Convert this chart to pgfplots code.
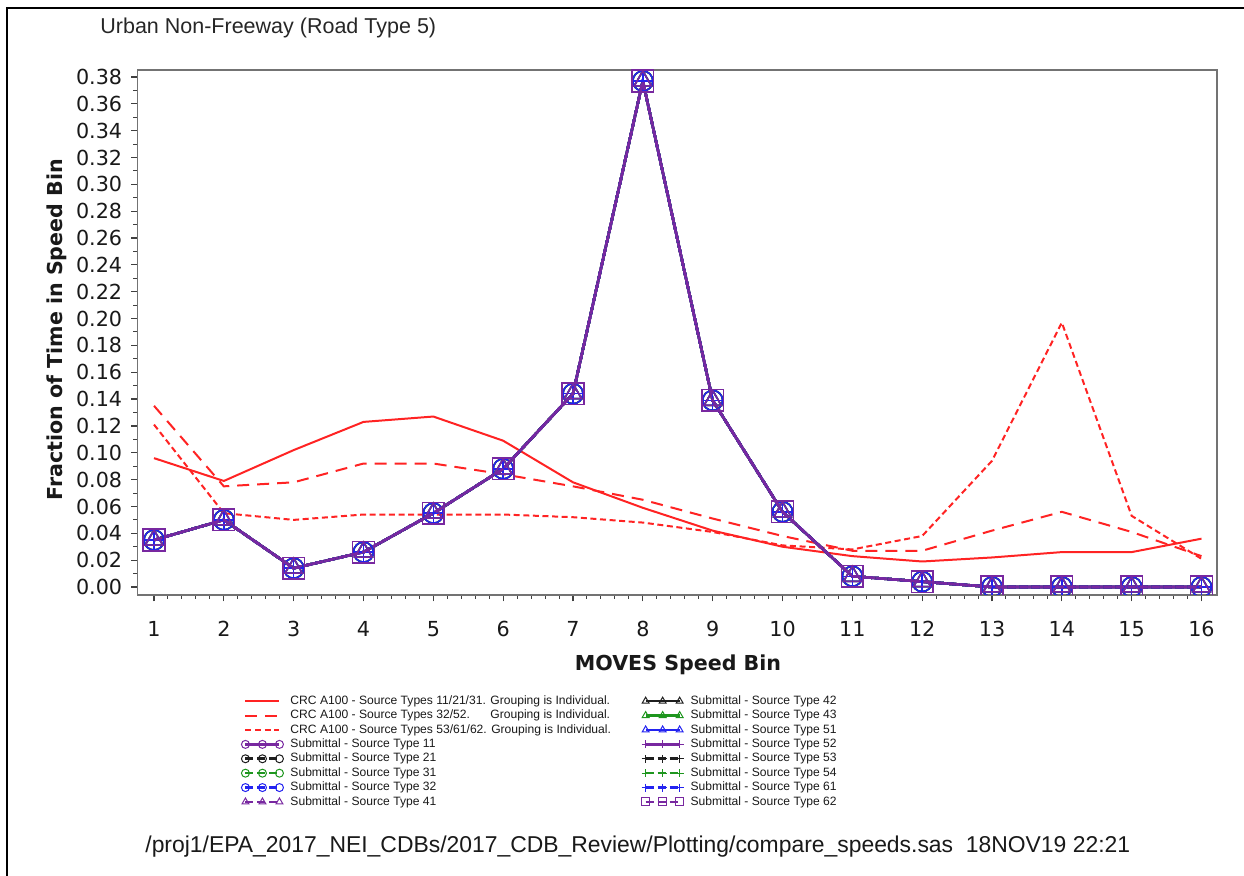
\documentclass[border=0pt]{standalone}
\usepackage{fontspec}
\setmainfont{Liberation Sans}
\newfontfamily\dejavu{DejaVu Sans}
\usepackage{calc}
\usepackage{pgfplots}
\usepackage{pgfplotstable}
\pgfplotsset{compat=1.18}

\definecolor{cred}{RGB}{255,35,35}
\definecolor{spur}{RGB}{120,40,160}
\definecolor{sblue}{RGB}{35,35,240}
\definecolor{sgreen}{RGB}{30,150,30}
\definecolor{sblack}{RGB}{30,30,30}

\pgfplotstableread{
bin frac
1  0.096
2  0.079
3  0.102
4  0.123
5  0.127
6  0.109
7  0.078
8  0.059
9  0.042
10 0.030
11 0.023
12 0.019
13 0.022
14 0.026
15 0.026
16 0.036
}\crcA
\pgfplotstableread{
bin frac
1  0.135
2  0.075
3  0.078
4  0.092
5  0.092
6  0.084
7  0.075
8  0.065
9  0.051
10 0.038
11 0.027
12 0.027
13 0.042
14 0.056
15 0.041
16 0.023
}\crcB
\pgfplotstableread{
bin frac
1  0.121
2  0.055
3  0.050
4  0.054
5  0.054
6  0.054
7  0.052
8  0.048
9  0.041
10 0.031
11 0.028
12 0.038
13 0.094
14 0.197
15 0.053
16 0.021
}\crcC
\pgfplotstableread{
bin frac
1  0.035
2  0.050
3  0.014
4  0.026
5  0.055
6  0.088
7  0.144
8  0.377
9  0.139
10 0.056
11 0.008
12 0.004
13 0.000
14 0.000
15 0.000
16 0.000
}\subm

\pgfplotsset{
  sub/.style={line width=1.3pt, mark size=5pt, mark options={solid, line width=0.75pt}},
  subd/.style={sub, dash pattern=on 4pt off 2pt},
}

\begin{document}
\begin{tikzpicture}
\useasboundingbox (0pt,0pt) rectangle (622pt,-438pt);
\draw[line width=1pt, black] (3.5pt,-445pt) -- (3.5pt,-4pt) -- (630pt,-4pt);
\node[anchor=base west, inner sep=0pt, font=\fontsize{10.75}{12}\selectfont, text=black!85] at (50pt,-16.6pt) {Urban Non-Freeway (Road Type 5)};
\node[anchor=base west, inner sep=0pt, font=\fontsize{11.45}{13}\selectfont, text=black!90] at (72.5pt,-426.4pt) {/proj1/EPA\_2017\_NEI\_CDBs/2017\_CDB\_Review/Plotting/compare\_speeds.sas\ \ 18NOV19 22:21};
\begin{axis}[
  at={(68.75pt,-297.5pt)}, anchor=south west,
  scale only axis, width=539.75pt, height=262.5pt,
  xmin=0.7636, xmax=16.222, ymin=-0.00596, ymax=0.3852,
  clip marker paths=true,
  xtick={1,2,3,4,5,6,7,8,9,10,11,12,13,14,15,16}, minor x tick num=4,
  ytick={0,0.02,0.04,0.06,0.08,0.10,0.12,0.14,0.16,0.18,0.20,0.22,0.24,0.26,0.28,0.30,0.32,0.34,0.36,0.38},
  minor y tick num=1,
  tick pos=left, tick align=outside,
  major tick length=3.2pt, minor tick length=2pt,
  axis line style={draw=black!55, line width=0.8pt},
  every tick/.style={draw=black!75, line width=0.6pt},
  every minor tick/.style={draw=black!75, line width=0.5pt},
  /pgf/number format/assume math mode=true,
  tick label style={font=\dejavu\fontsize{10.35}{12}\selectfont, text=black!90},
  yticklabel style={anchor=east, inner sep=0pt, xshift=-4.3pt, /pgf/number format/.cd, fixed, fixed zerofill, precision=2},
  xticklabel style={anchor=base, inner sep=0pt, yshift=-17.6pt},
  xlabel={MOVES Speed Bin},
  ylabel={Fraction of Time in Speed Bin},
  every axis x label/.style={at={(axis description cs:0.5007,-0.1438)}, anchor=base, inner sep=0pt, font=\dejavu\bfseries\fontsize{10.3}{12}\selectfont, text=black!90},
  every axis y label/.style={at={(axis description cs:-0.0695,0.505)}, rotate=90, anchor=base, inner sep=0pt, font=\dejavu\bfseries\fontsize{10.3}{12}\selectfont, text=black!90},
  legend columns=2, legend cell align=left,
  legend style={at={(axis description cs:0.0963,-0.1912)}, anchor=north west, draw=none, fill=none, inner sep=0pt, outer sep=0pt,
    font=\fontsize{6.05}{7}\selectfont, row sep=1.4pt,
    nodes={inner sep=0pt, text height=4.5pt, text depth=1.3pt, text=black!90},
    /tikz/every odd column/.append style={column sep=3.5pt},
    /tikz/every even column/.append style={column sep=15.3pt}},
  legend image code/.code={\draw[#1, mark repeat=1, mark phase=1, mark size=2pt, mark options={solid, line width=0.5pt}] plot coordinates {(0pt,0pt) (8.5pt,0pt) (17pt,0pt)};},
]
% interleaved so that the two legend columns read as in the original
\addplot[cred, line width=1pt, mark=none] table[x=bin,y=frac]{\crcA};
\addlegendentry{CRC A100 - Source Types 11/21/31. Grouping is Individual.}
\addplot[sub, sblack, mark=triangle] table[x=bin,y=frac]{\subm};
\addlegendentry{Submittal - Source Type 42}
\addplot[cred, line width=1pt, mark=none, dash pattern=on 6pt off 4pt] table[x=bin,y=frac]{\crcB};
\addlegendentry{\makebox[\widthof{CRC A100 - Source Types 11/21/31. }][l]{CRC A100 - Source Types 32/52.}Grouping is Individual.}
\addplot[sub, sgreen, mark=triangle] table[x=bin,y=frac]{\subm};
\addlegendentry{Submittal - Source Type 43}
\addplot[cred, line width=1pt, mark=none, dash pattern=on 3pt off 1.8pt] table[x=bin,y=frac]{\crcC};
\addlegendentry{CRC A100 - Source Types 53/61/62. Grouping is Individual.}
\addplot[sub, sblue, mark=triangle] table[x=bin,y=frac]{\subm};
\addlegendentry{Submittal - Source Type 51}
\addplot[sub, spur, mark=o] table[x=bin,y=frac]{\subm};
\addlegendentry{Submittal - Source Type 11}
\addplot[sub, spur, mark=+] table[x=bin,y=frac]{\subm};
\addlegendentry{Submittal - Source Type 52}
\addplot[subd, sblack, mark=o] table[x=bin,y=frac]{\subm};
\addlegendentry{Submittal - Source Type 21}
\addplot[subd, sblack, mark=+] table[x=bin,y=frac]{\subm};
\addlegendentry{Submittal - Source Type 53}
\addplot[subd, sgreen, mark=o] table[x=bin,y=frac]{\subm};
\addlegendentry{Submittal - Source Type 31}
\addplot[subd, sgreen, mark=+] table[x=bin,y=frac]{\subm};
\addlegendentry{Submittal - Source Type 54}
\addplot[subd, sblue, mark=o] table[x=bin,y=frac]{\subm};
\addlegendentry{Submittal - Source Type 32}
\addplot[subd, sblue, mark=+] table[x=bin,y=frac]{\subm};
\addlegendentry{Submittal - Source Type 61}
\addplot[subd, spur, mark=triangle] table[x=bin,y=frac]{\subm};
\addlegendentry{Submittal - Source Type 41}
\addplot[subd, spur, mark=square, mark size=5.4pt] table[x=bin,y=frac]{\subm};
\addlegendentry{Submittal - Source Type 62}
\end{axis}
\end{tikzpicture}
\end{document}
